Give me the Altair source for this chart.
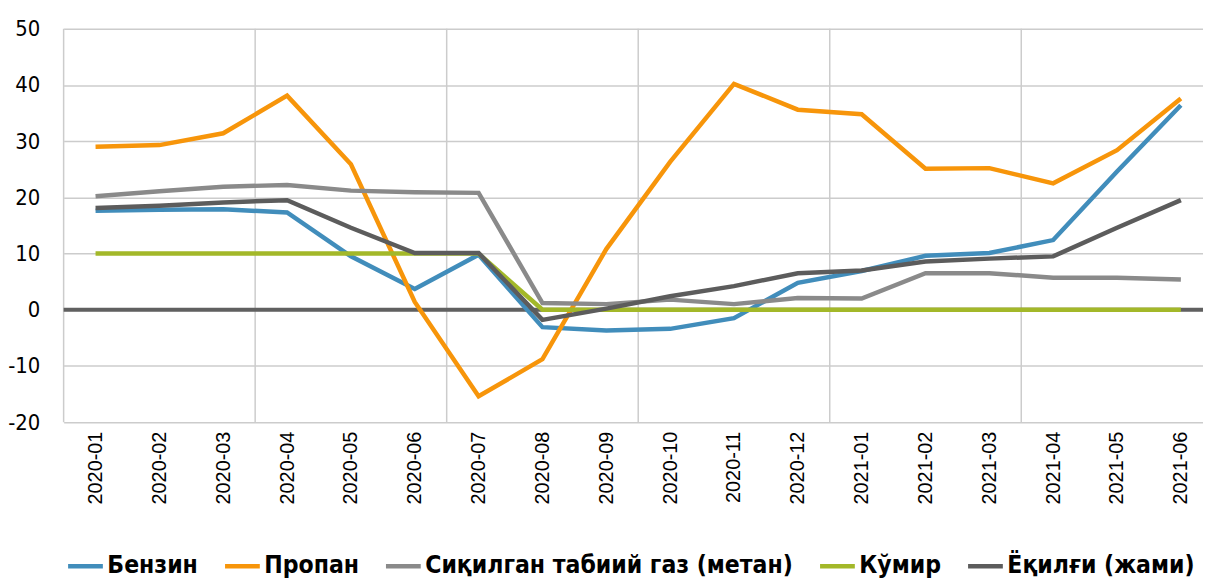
import altair as alt
import pandas as pd

months = ["2020-01", "2020-02", "2020-03", "2020-04", "2020-05", "2020-06",
          "2020-07", "2020-08", "2020-09", "2020-10", "2020-11", "2020-12",
          "2021-01", "2021-02", "2021-03", "2021-04", "2021-05", "2021-06"]

series_names = ["Бензин", "Пропан", "Сиқилган табиий газ (метан)", "Кўмир", "Ёқилғи (жами)"]
series_colors = ["#418dbb", "#f7950a", "#8a8a8a", "#a3b829", "#5c5c5c"]

benzin = [17.6, 17.8, 17.9, 17.3, 9.5, 3.7, 9.8, -3.1, -3.7, -3.4, -1.5, 4.8, 6.9, 9.6, 10.1, 12.4, 24.6, 36.4]
propan = [29.0, 29.3, 31.4, 38.1, 25.9, 1.4, -15.4, -8.8, 10.8, 26.3, 40.2, 35.6, 34.8, 25.1, 25.2, 22.5, 28.4, 37.6]
metan = [20.2, 21.1, 21.9, 22.2, 21.2, 20.9, 20.8, 1.2, 1.0, 1.8, 1.0, 2.1, 2.0, 6.5, 6.5, 5.7, 5.7, 5.4]
komir = [10, 10, 10, 10, 10, 10, 10, 0, 0, 0, 0, 0, 0, 0, 0, 0, 0, 0]
jami = [18.1, 18.5, 19.1, 19.5, 14.6, 10.1, 10.1, -1.8, 0.2, 2.4, 4.2, 6.5, 7.0, 8.6, 9.1, 9.5, 14.6, 19.5]

grid_months = ["2020-01", "2020-04", "2020-07", "2020-10", "2021-01", "2021-04"]

y_ticks = [-20, -10, 0, 10, 20, 30, 40, 50]

all_series = [benzin, propan, metan, komir, jami]
rows = []
for name, vals in zip(series_names, all_series):
    for i, (m, v) in enumerate(zip(months, vals)):
        rows.append({"month": m, "idx": i, "value": v, "series": name})
df = pd.DataFrame(rows)

# vertical gridlines sit on the left edge of each listed month's slot
grid_df = pd.DataFrame({"month": grid_months,
                        "edge": [months.index(m) - 0.5 for m in grid_months]})

NARROW = "DejaVu Sans Condensed, DejaVu Sans, sans-serif"
REG = "Liberation Sans, Arial, sans-serif"

PLOT_W = 1147
PLOT_H = 396
SVG_H = 571
STEP = 64.27  # px per month in the reference (plot runs past the right edge)

x_scale = alt.Scale(domain=[-0.5, -0.5 + PLOT_W / STEP], nice=False, zero=False)
y_scale = alt.Scale(domain=[-20, 50], nice=False, zero=False)

label_js = "[" + ",".join("'" + m + "'" for m in months) + "][datum.value]"
x_axis = alt.Axis(title=None, values=list(range(len(months))), labelExpr=label_js,
                  labelAngle=270, labelAlign="right", labelBaseline="middle",
                  labelFont=REG, labelFontSize=20,
                  labelColor="#000000", ticks=False, domain=False, grid=False,
                  labelPadding=9, labelFlush=False, labelOverlap=False)
y_axis = alt.Axis(title=None, values=y_ticks, labelFont=NARROW, labelFontSize=22,
                  labelColor="#000000", ticks=False, domain=False, grid=True,
                  gridColor="#cccccc", gridWidth=1.5, labelPadding=24,
                  labelExpr="toString(datum.value)")


def xenc(field):
    return alt.X(field, scale=x_scale, axis=x_axis)


def yenc(field):
    return alt.Y(field, scale=y_scale, axis=y_axis)


color = alt.Color(
    "series:N",
    scale=alt.Scale(domain=series_names, range=series_colors),
    legend=alt.Legend(
        title=None,
        orient="none",
        direction="horizontal",
        legendX=2,
        legendY=521,
        padding=0,
        symbolType="stroke",
        symbolSize=1225,
        symbolStrokeWidth=4.5,
        labelFont=NARROW,
        labelFontSize=24.7,
        labelFontWeight="bold",
        labelColor="#000000",
        labelOffset=2,
        columnPadding=17,
        labelLimit=500,
    ),
)

vgrid = alt.Chart(grid_df).mark_rule(color="#cccccc", strokeWidth=1.5).encode(
    x=xenc("edge:Q"),
)

zero = alt.Chart(pd.DataFrame({"v": [0]})).mark_rule(color="#606060", strokeWidth=4).encode(
    y=yenc("v:Q"),
)

line_layers = []
for name in series_names:
    line_layers.append(
        alt.Chart(df).transform_filter(alt.datum.series == name).mark_line(strokeWidth=4.5).encode(
            x=xenc("idx:Q"),
            y=yenc("value:Q"),
            color=color,
        )
    )

chart = alt.layer(vgrid, zero, *line_layers).properties(
    width=PLOT_W,
    height=PLOT_H,
    background="white",
    autosize=alt.AutoSizeParams(type="none"),
    padding={"left": 56, "top": 19, "right": 0, "bottom": SVG_H - 19 - PLOT_H},
).configure_view(stroke=None)

chart.save("out.html", embed_options={"renderer": "svg", "actions": False})
